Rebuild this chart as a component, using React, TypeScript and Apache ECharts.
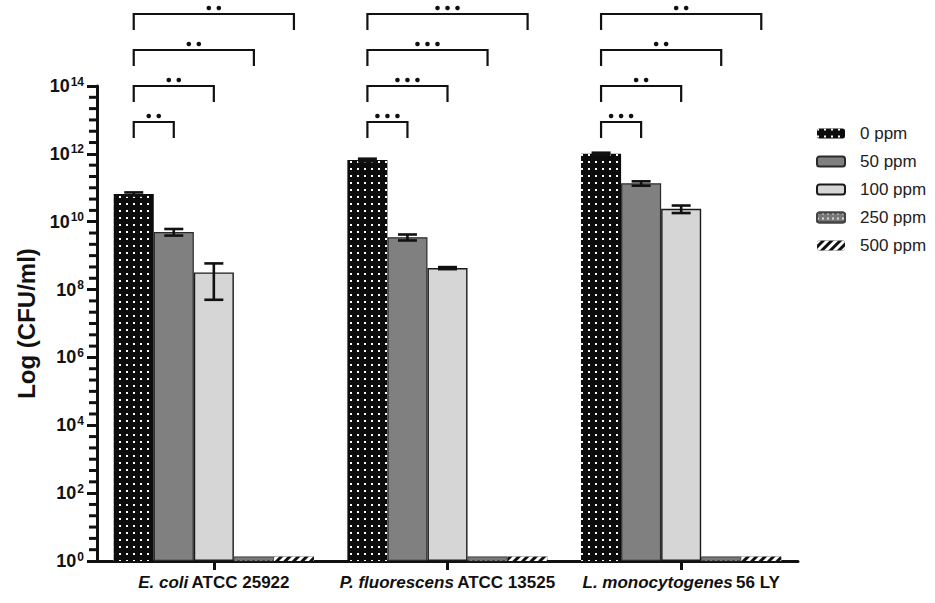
import React, { useEffect, useRef } from 'react';
import * as echarts from 'echarts';

const species = ['E. coli', 'P. fluorescens', 'L. monocytogenes'];
const strains = ['ATCC 25922', 'ATCC 13525', '56 LY'];
const categories = species.map((s, i) => `${s} ${strains[i]}`);
const seriesNames = ['0 ppm', '50 ppm', '100 ppm', '250 ppm', '500 ppm'];

const ppm0 = [6.6e10, 6.6e11, 1.0e12];
const ppm0Err = [0.7e10, 0.6e11, 0.08e12];
const ppm50 = [5.0e9, 3.5e9, 1.35e11];
const ppm50Err = [1.1e9, 0.7e9, 0.2e11];
const ppm100 = [3.2e8, 4.3e8, 2.4e10];
const ppm100Err = [2.7e8, 0.3e8, 0.6e10];
const ppm250 = [1.35, 1.35, 1.35];
const ppm500 = [1.35, 1.35, 1.35];

// y axis: major ticks every 2 decades (10^0 ... 10^14), 5 minor ticks between
const yMax = 1e14;
const majorDecadeStep = 2;
const minorSplit = 6;

// significance markers: stars for 0 ppm vs [50, 100, 250, 500] ppm in each group
const sigStars = [
  [2, 2, 2, 2],
  [3, 3, 3, 3],
  [3, 2, 2, 2],
];

const FONT = 'Arial, "Liberation Sans", Helvetica, sans-serif';
const GAP_RATIO = 0.143;
const N_BARS = 5;

function barGeom(api: any, cat: number) {
  const c0 = api.coord([0, yMax]);
  const c1 = api.coord([1, yMax]);
  const band = c1[0] - c0[0];
  const barW = (band * (1 - GAP_RATIO)) / N_BARS;
  const c = api.coord([cat, yMax]);
  return { cx: c[0], topY: c[1], barW };
}

function errorSeries(idx: number, means: number[], errs: number[]) {
  return {
    type: 'custom',
    name: 'err' + idx,
    z: 5,
    data: means.map((m, i) => [i, m, errs[i]]),
    encode: { x: 0, y: 1 },
    renderItem: (params: any, api: any) => {
      const cat = api.value(0);
      const mean = api.value(1);
      const err = api.value(2);
      const { cx, barW } = barGeom(api, cat);
      const x = cx + (idx - 2) * barW;
      const yHi = api.coord([cat, mean + err])[1];
      const yLo = api.coord([cat, mean - err])[1];
      const hw = 9.5;
      const st = { stroke: '#111', lineWidth: 2.6, fill: 'none' };
      return {
        type: 'group',
        children: [
          { type: 'line', shape: { x1: x, y1: yHi, x2: x, y2: yLo }, style: st },
          { type: 'line', shape: { x1: x - hw, y1: yHi, x2: x + hw, y2: yHi }, style: st },
          { type: 'line', shape: { x1: x - hw, y1: yLo, x2: x + hw, y2: yLo }, style: st },
        ],
      };
    },
  };
}

function xLabel(v: string) {
  const i = categories.indexOf(v);
  if (i < 0) return v;
  return `{i|${species[i]}} {n|${strains[i]}}`;
}

export default function App() {
  const ref = useRef<HTMLDivElement>(null);
  useEffect(() => {
    document.body.style.margin = '0';
    if (!ref.current) return;
    const chart = echarts.init(ref.current, undefined, { renderer: 'svg' });

    const sigData: any[] = [];
    sigStars.forEach((row, g) => row.forEach((n, k) => sigData.push([g, yMax, k + 1, n])));

    const option: any = {
      animation: false,
      backgroundColor: '#fff',
      textStyle: { fontFamily: FONT },
      grid: { left: 97, right: 137, top: 86, bottom: 42, containLabel: false },
      legend: {
        data: seriesNames,
        orient: 'vertical',
        left: 811,
        top: 120,
        itemWidth: 28,
        itemHeight: 10,
        itemGap: 11,
        textStyle: { fontSize: 17, color: '#222', fontFamily: FONT, padding: [0, 0, 0, 10] },
      },
      xAxis: {
        type: 'category',
        data: categories,
        axisLine: { show: true, lineStyle: { color: '#111', width: 3 } },
        axisTick: { show: true, alignWithLabel: true, length: 9, lineStyle: { color: '#111', width: 3 } },
        splitLine: { show: false },
        axisLabel: {
          margin: 13,
          formatter: xLabel,
          rich: {
            i: { fontStyle: 'italic', fontWeight: 'bold', fontSize: 17, color: '#111', fontFamily: FONT },
            n: { fontWeight: 'bold', fontSize: 17, color: '#111', fontFamily: FONT },
          },
        },
      },
      yAxis: {
        type: 'log',
        logBase: 100,
        min: 1,
        max: yMax,
        name: 'Log (CFU/ml)',
        nameLocation: 'middle',
        nameGap: 55,
        nameTextStyle: { fontSize: 24, fontWeight: 'bold', color: '#111', fontFamily: FONT },
        axisLine: { show: true, lineStyle: { color: '#111', width: 3 } },
        axisTick: { show: true, length: 10, lineStyle: { color: '#111', width: 3 } },
        minorTick: { show: false },
        splitLine: { show: false },
        minorSplitLine: { show: false },
        axisLabel: {
          margin: 13,
          formatter: (v: number) => `{b|10}{s|${Math.round(Math.log10(v))}}`,
          rich: {
            b: { fontSize: 18, fontWeight: 'bold', color: '#111', fontFamily: FONT },
            s: { fontSize: 12, fontWeight: 'bold', color: '#111', fontFamily: FONT, padding: [0, 0, 9, 1] },
          },
        },
      },
      series: [
        {
          name: '0 ppm',
          type: 'bar',
          data: ppm0,
          barGap: '0%',
          barCategoryGap: '14.3%',
          itemStyle: {
            color: '#0c0c0c',
            decal: { symbol: 'rect', symbolSize: 1, color: '#ffffff', dashArrayX: [1.7, 4.6], dashArrayY: [1.7, 4.6] },
          },
        },
        {
          name: '50 ppm',
          type: 'bar',
          data: ppm50,
          itemStyle: { color: '#808080', borderColor: '#2a2a2a', borderWidth: 1.2 },
        },
        {
          name: '100 ppm',
          type: 'bar',
          data: ppm100,
          itemStyle: { color: '#d6d6d6', borderColor: '#1a1a1a', borderWidth: 1.4 },
        },
        {
          name: '250 ppm',
          type: 'bar',
          data: ppm250,
          itemStyle: {
            color: '#777777',
            borderColor: '#444',
            borderWidth: 0.6,
            decal: { symbol: 'rect', symbolSize: 1, color: '#d8d8d8', dashArrayX: [1.5, 2.5], dashArrayY: [1.5, 2.5] },
          },
        },
        {
          name: '500 ppm',
          type: 'bar',
          data: ppm500,
          itemStyle: {
            color: '#111111',
            decal: { symbol: 'rect', symbolSize: 1, color: '#ffffff', dashArrayX: [1, 0], dashArrayY: [2.5, 2.5], rotation: -Math.PI / 4 },
          },
        },
        errorSeries(0, ppm0, ppm0Err),
        errorSeries(1, ppm50, ppm50Err),
        errorSeries(2, ppm100, ppm100Err),
        {
          type: 'custom',
          name: 'sig',
          clip: false,
          z: 6,
          data: sigData,
          encode: { x: 0, y: 1 },
          renderItem: (params: any, api: any) => {
            const g = api.value(0);
            const k = api.value(2);
            const n = api.value(3);
            const { cx, topY, barW } = barGeom(api, g);
            const x0 = cx - 2 * barW;
            const x1 = cx + (k - 2) * barW;
            const y = topY + 36 - (k - 1) * 36;
            const leg = 16;
            const mid = (x0 + x1) / 2;
            const children: any[] = [
              {
                type: 'polyline',
                shape: { points: [[x0, y + leg], [x0, y], [x1, y], [x1, y + leg]] },
                style: { stroke: '#111', lineWidth: 2.2, fill: 'none' },
              },
            ];
            for (let d = 0; d < n; d++) {
              const dx = (d - (n - 1) / 2) * 10;
              children.push({ type: 'circle', shape: { cx: mid + dx, cy: y - 6, r: 2.3 }, style: { fill: '#111' } });
            }
            return { type: 'group', children };
          },
        },
      ],
    };
    chart.setOption(option);

    // minor ticks of the log axis: 5 between each pair of labelled decades, placed via the axis scale
    const c0 = chart.convertToPixel({ xAxisIndex: 0 }, 0) as number;
    const c1 = chart.convertToPixel({ xAxisIndex: 0 }, 1) as number;
    const xl = c0 - (c1 - c0) / 2;
    const topExp = Math.round(Math.log10(yMax));
    const ticks: any[] = [];
    for (let e = 0; e < topExp; e += majorDecadeStep) {
      for (let m = 1; m < minorSplit; m++) {
        const v = Math.pow(10, e + (m * majorDecadeStep) / minorSplit);
        const y = chart.convertToPixel({ yAxisIndex: 0 }, v) as number;
        ticks.push({
          type: 'rect',
          silent: true,
          z: 10,
          shape: { x: xl - 8, y: y - 1.5, width: 8, height: 3 },
          style: { fill: '#111' },
        });
      }
    }
    chart.setOption({ graphic: { elements: ticks } });
    return () => chart.dispose();
  }, []);
  return <div ref={ref} style={{ width: 935, height: 603 }} />;
}
